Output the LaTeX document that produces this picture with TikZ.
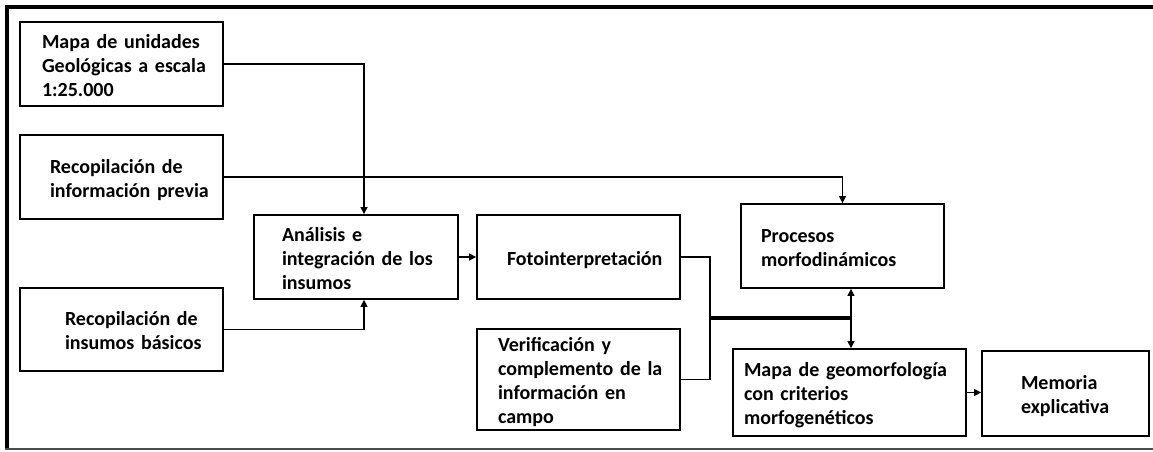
\documentclass[tikz,border=0pt]{standalone}
\usepackage{fontspec}
\setmainfont{Carlito}
\usetikzlibrary{arrows.meta}
\newcommand\boxtxt[2]{\hspace*{#1pt}\raisebox{-3.5pt}[\height][\depth]{\begin{tabular}{@{}l@{}}#2\end{tabular}}}
\tikzset{
  stepbox/.style={draw, line width=1.8pt, inner xsep=0pt, inner ysep=0pt, align=left,
    font=\fontsize{20}{24}\selectfont\bfseries},
  conn/.style={line width=1.4pt, -{Triangle[length=7pt,width=7pt]}},
  plain/.style={line width=1.4pt},
}
\begin{document}
\begin{tikzpicture}[x=1pt,y=-1pt]
\useasboundingbox (0,0) rectangle (1153,451);
% frame
\draw[line width=4pt] (5,7) -- (1153,7);
\draw[line width=3.5pt] (6.75,5) -- (6.75,449);
\draw[line width=1.2pt, black!70] (5,449) -- (1153,449);
% boxes
\node[stepbox, minimum width=203, text width=203, minimum height=84] (mapa) at (121.5,64)
  {\boxtxt{22}{Mapa de unidades\\Geológicas a escala\\1:25.000}};
\node[stepbox, minimum width=203, text width=203, minimum height=84] (prev) at (121.5,177)
  {\boxtxt{30}{Recopilación de\\información previa}};
\node[stepbox, minimum width=204, text width=204, minimum height=84] (anal) at (356,257)
  {\boxtxt{28}{Análisis e\\integración de los\\insumos}};
\node[stepbox, minimum width=203, text width=203, minimum height=83] (basic) at (121.5,329.5)
  {\boxtxt{45}{Recopilación de\\insumos básicos}};
\node[stepbox, minimum width=203, text width=203, minimum height=84] (foto) at (578.5,257)
  {\boxtxt{30}{Fotointerpretación}};
\node[stepbox, minimum width=203, text width=203, minimum height=101] (verif) at (578.5,379.5)
  {\boxtxt{21}{Verificación y\\complemento de la\\información en\\campo}};
\node[stepbox, minimum width=203, text width=203, minimum height=84] (proc) at (842.5,246)
  {\boxtxt{20}{Procesos\\morfodinámicos}};
\node[stepbox, minimum width=233, text width=233, minimum height=87] (geom) at (849.5,392.5)
  {\boxtxt{11}{Mapa de geomorfología\\con criterios\\morfogenéticos}};
\node[stepbox, minimum width=167, text width=167, minimum height=85] (mem) at (1065.5,393.5)
  {\boxtxt{39}{Memoria\\explicativa}};
% helper coordinates
\coordinate (j1) at (364,0);
\coordinate (bus) at (710,318);
\coordinate (j2) at (851,318);
% connectors
\draw[conn] (prev.east) -| (proc.north);
\draw[conn] (mapa.east) -| (anal.north -| j1);
\draw[conn] (basic.east) -| (anal.south -| j1);
\draw[conn] (anal.east) -- (foto.west);
\draw[plain] (foto.east) -| (bus) |- (verif.east);
\draw[line width=3.2pt] (bus) -- (j2);
\draw[conn] (j2) -- (proc.south -| j2);
\draw[conn] (j2) -- (geom.north -| j2);
\draw[conn] (geom.east) -- (geom.east -| mem.west);
\end{tikzpicture}
\end{document}
